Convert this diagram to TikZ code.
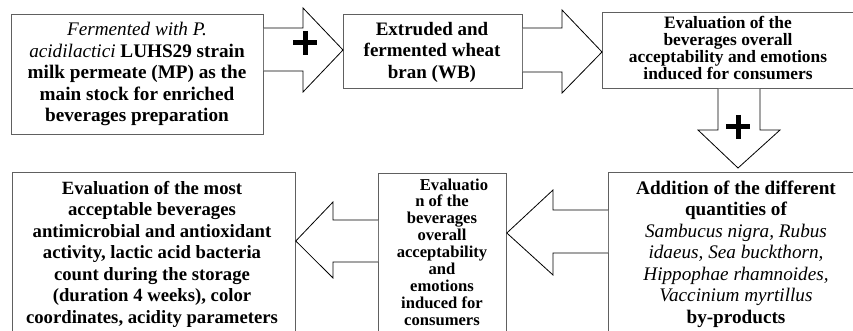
\documentclass[tikz,border=0pt]{standalone}
\usepackage{fontspec}
\setmainfont{Liberation Serif}
\begin{document}
\begin{tikzpicture}[x=1pt,y=-1pt,
  box/.style={draw=gray!75!black, line width=0.8pt, inner sep=0pt, anchor=north west},
  arr/.style={draw=black, line width=0.8pt, fill=white, line join=miter},
  txt/.style={align=center, inner sep=0pt, font=\bfseries\fontsize{#1}{21.5}\selectfont},
  txtc/.style={align=center, inner sep=0pt, font=\bfseries\fontsize{#1}{16.9}\selectfont},
  plus/.style={line width=5pt}]
\useasboundingbox (0,0) rectangle (853,331);
\clip (0,0) rectangle (853,331);
% boxes
\node[box, minimum width=252pt, minimum height=120pt] (b1) at (11,14) {};
\node[box, minimum width=179pt, minimum height=74pt] (b2) at (343,14) {};
\node[box, minimum width=270pt, minimum height=76pt] (b3) at (602,12) {};
\node[box, minimum width=270pt, minimum height=170pt] (b4) at (608,172) {};
\node[box, minimum width=128pt, minimum height=170pt] (b5) at (378,173) {};
\node[box, minimum width=283pt, minimum height=170pt] (b6) at (12,172) {};
% texts
\node[txt=19.2] (t1) at (137,74) {{\mdseries\itshape Fermented with P.}\\ {\mdseries\itshape acidilactici} LUHS29 strain\\ milk permeate (MP) as the\\ main stock for enriched\\ beverages preparation};
\node[txt=19] (t2) at (432,52) {Extruded and\\ fermented wheat\\ bran (WB)};
\node[txtc=17.4] (t3) at (728,48) {Evaluation of the\\ beverages overall\\ acceptability and emotions\\ induced for consumers};
\node[txt=19.2] (t4) at (736,254) {Addition of the different\\ quantities of\\ {\mdseries\itshape Sambucus nigra, Rubus}\\ {\mdseries\itshape idaeus, Sea buckthorn,}\\ {\mdseries\itshape Hippophae rhamnoides,}\\ {\mdseries\itshape Vaccinium myrtillus}\\ by-products};
\node[txtc=16.6] (t5) at (442,252) {\hspace*{24pt}Evaluatio\\ n of the\\ beverages\\ overall\\ acceptability\\ and\\ emotions\\ induced for\\ consumers};
\node[txt=18.7] (t6) at (152,254) {Evaluation of the most\\ acceptable beverages\\ antimicrobial and antioxidant\\ activity, lactic acid bacteria\\ count during the storage\\ (duration 4 weeks), color\\ coordinates, acidity parameters};
% block arrows
\draw[arr] (b1.east |- 0,28) -- (303,28) -- (303,8) -- (b2.west |- 0,50) -- (303,92) -- (303,71) -- (b1.east |- 0,71);
\draw[arr] (b2.east |- 0,28) -- (562,28) -- (562,10) -- (b3.west |- 0,52) -- (562,93) -- (562,72) -- (b2.east |- 0,72);
\draw[arr] (718,0 |- b3.south) -- (718,130) -- (698,130) -- (738,168) -- (780,130) -- (760,130) -- (760,0 |- b3.south);
\draw[arr] (b4.west |- 0,210) -- (553,210) -- (553,190) -- (b5.east |- 0,233) -- (553,275) -- (553,253) -- (b4.west |- 0,253);
\draw[arr] (b5.west |- 0,220) -- (333,220) -- (333,202) -- (b6.east |- 0,241) -- (333,278) -- (333,262) -- (b5.west |- 0,262);
% plus signs
\draw[plus] (293,43) -- (317,43) (305,31) -- (305,55);
\draw[plus] (726,127) -- (750,127) (738,115) -- (738,139);
\end{tikzpicture}
\end{document}
